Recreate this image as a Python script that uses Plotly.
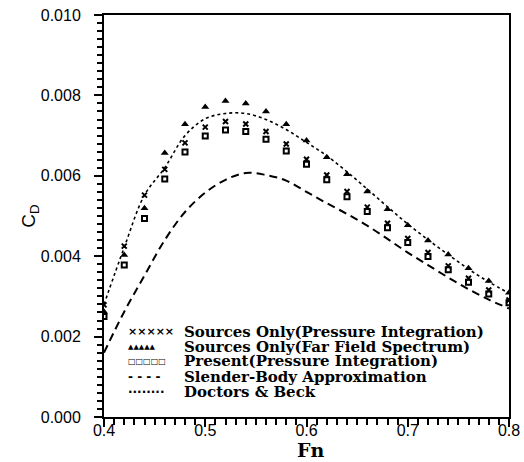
import plotly.graph_objects as go

# ---------------- data ----------------
fn = [0.40, 0.42, 0.44, 0.46, 0.48, 0.50, 0.52, 0.54, 0.56, 0.58, 0.60,
      0.62, 0.64, 0.66, 0.68, 0.70, 0.72, 0.74, 0.76, 0.78, 0.80]

src_pressure = [0.00279, 0.00425, 0.00552, 0.00616, 0.00682, 0.00721, 0.00735,
                0.00729, 0.00710, 0.00679, 0.00641, 0.00602, 0.00561, 0.00522,
                0.00482, 0.00444, 0.00409, 0.00376, 0.00345, 0.00316, 0.00291]

src_farfield = [0.00262, 0.00403, 0.00519, 0.00657, 0.00728, 0.00771, 0.00786,
                0.00780, 0.00760, 0.00728, 0.00688, 0.00646, 0.00604, 0.00561,
                0.00517, 0.00477, 0.00439, 0.00404, 0.00370, 0.00338, 0.00309]

present = [0.00250, 0.00378, 0.00494, 0.00592, 0.00659, 0.00699, 0.00714,
           0.00710, 0.00691, 0.00662, 0.00629, 0.00590, 0.00548, 0.00511,
           0.00471, 0.00434, 0.00399, 0.00366, 0.00335, 0.00306, 0.00284]

slender = [0.00160, 0.00262, 0.00352, 0.00440, 0.00510, 0.00558, 0.00590,
           0.00607, 0.00602, 0.00588, 0.00560, 0.00532, 0.00505, 0.00476,
           0.00443, 0.00409, 0.00378, 0.00347, 0.00318, 0.00292, 0.00270]

doctors_beck = [0.00280, 0.00422, 0.00552, 0.00620, 0.00700, 0.00742, 0.00755,
                0.00755, 0.00740, 0.00715, 0.00683, 0.00650, 0.00610, 0.00567,
                0.00523, 0.00480, 0.00441, 0.00404, 0.00368, 0.00336, 0.00308]

legend_labels = ["Sources Only(Pressure Integration)",
                 "Sources Only(Far Field Spectrum)",
                 "Present(Pressure Integration)",
                 "Slender-Body Approximation",
                 "Doctors & Beck"]
legend_samples = ["\u00d7\u00d7\u00d7\u00d7\u00d7", "\u25b2\u25b2\u25b2\u25b2\u25b2",
                  "\u25a1\u25a1\u25a1\u25a1\u25a1", "- - - -", "\u00b7\u00b7\u00b7\u00b7\u00b7\u00b7\u00b7\u00b7"]

x_ticks = [0.4, 0.5, 0.6, 0.7, 0.8]
x_ticktext = ["0.4", "0.5", "0.6", "0.7", "0.8"]
y_ticks = [0.000, 0.002, 0.004, 0.006, 0.008, 0.010]
y_ticktext = ["0.000", "0.002", "0.004", "0.006", "0.008", "0.010"]

# ---------------- figure ----------------
fig = go.Figure()

fig.add_trace(go.Scatter(x=fn, y=slender, mode="lines", name=legend_labels[3],
                         line=dict(color="black", width=2, dash="8px,5px", shape="spline")))
fig.add_trace(go.Scatter(x=fn, y=doctors_beck, mode="lines", name=legend_labels[4],
                         line=dict(color="black", width=1.6, dash="3px,3px", shape="spline")))
fig.add_trace(go.Scatter(x=fn, y=src_pressure, mode="markers", name=legend_labels[0],
                         marker=dict(symbol="x-thin", size=5, color="black",
                                     line=dict(width=2, color="black"))))
fig.add_trace(go.Scatter(x=fn, y=src_farfield, mode="markers", name=legend_labels[1],
                         marker=dict(symbol="triangle-up", size=7, color="black")))
fig.add_trace(go.Scatter(x=fn, y=present, mode="markers", name=legend_labels[2],
                         marker=dict(symbol="square-open", size=5, color="black",
                                     line=dict(width=2, color="black"))))

# legend drawn as text
row_y = [0.212, 0.175, 0.139, 0.100, 0.063]
sample_fonts = [dict(size=11, family="DejaVu Sans", color="black"),
                dict(size=7, family="DejaVu Sans", color="black"),
                dict(size=8, family="DejaVu Sans", color="black"),
                dict(size=12, family="DejaVu Sans", color="black"),
                dict(size=12, family="DejaVu Sans", color="black")]
for i, (lab, smp) in enumerate(zip(legend_labels, legend_samples)):
    fig.add_annotation(xref="paper", yref="paper", x=0.055, y=row_y[i],
                       xanchor="left", yanchor="middle", showarrow=False,
                       text="<b>" + smp + "</b>", font=sample_fonts[i])
    fig.add_annotation(xref="paper", yref="paper", x=0.192, y=row_y[i],
                       xanchor="left", yanchor="middle", showarrow=False,
                       text="<b>" + lab.replace("&", "&amp;") + "</b>",
                       font=dict(size=15, family="DejaVu Serif", color="black"))

# x-axis title placed as an annotation under the tick labels
fig.add_annotation(xref="paper", yref="paper", x=0.51, y=-0.112,
                   xanchor="center", yanchor="bottom", showarrow=False,
                   borderpad=0,
                   text="<b>Fn</b>", font=dict(family="DejaVu Serif", size=19, color="black"))

axis_common = dict(showgrid=False, zeroline=False, showline=True, linecolor="black",
                   linewidth=2, mirror=True, ticks="outside", tickcolor="black",
                   tickwidth=1.5, ticklen=8, automargin=False,
                   tickfont=dict(family="Liberation Sans", size=16, color="black"))

fig.update_xaxes(range=[0.4, 0.8], tickvals=x_ticks, ticktext=x_ticktext,
                 ticklabelstandoff=-10,
                 minor=dict(dtick=0.01, ticks="outside", ticklen=6, tickcolor="black", tickwidth=1.5),
                 **axis_common)
fig.update_yaxes(range=[0.0, 0.010], tickvals=y_ticks, ticktext=y_ticktext,
                 ticklabelstandoff=10,
                 minor=dict(dtick=0.0002, ticks="outside", ticklen=5, tickcolor="black", tickwidth=1.5),
                 title=dict(text="C<sub>D</sub>", font=dict(family="Liberation Sans", size=19, color="black"),
                            standoff=0),
                 **axis_common)

fig.update_layout(width=524, height=462, showlegend=False,
                  margin=dict(l=104, r=15, t=15, b=45),
                  plot_bgcolor="white", paper_bgcolor="white")

fig.write_html("out.html")
